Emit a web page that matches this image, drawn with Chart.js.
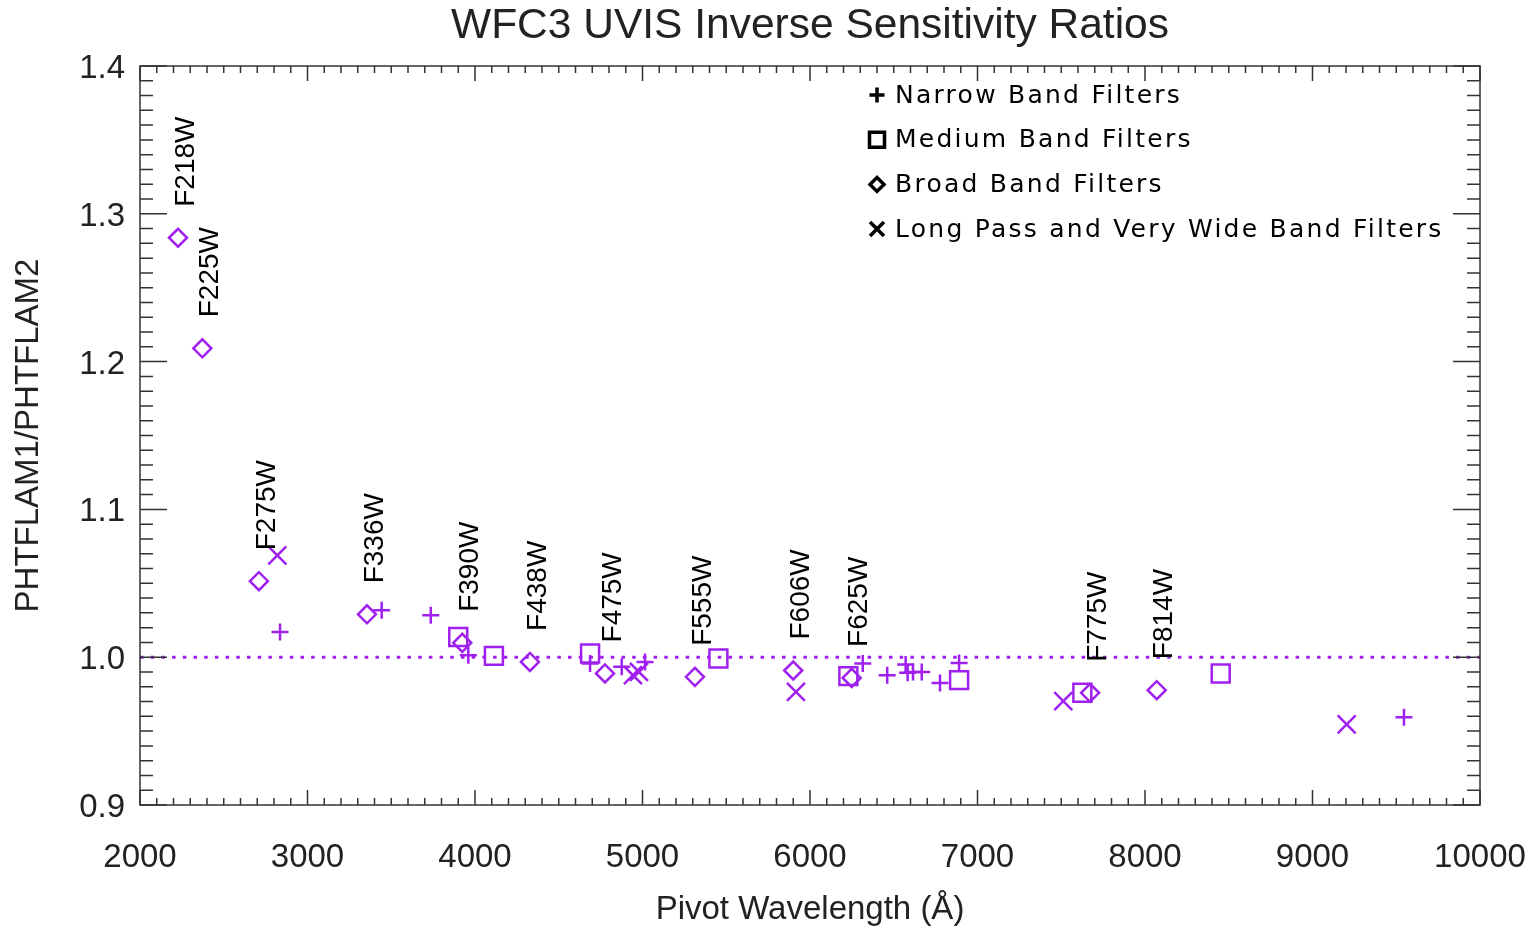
<!DOCTYPE html>
<html>
<head>
<meta charset="utf-8">
<title>WFC3 UVIS Inverse Sensitivity Ratios</title>
<script src="https://cdn.jsdelivr.net/npm/chart.js@4.4.0/dist/chart.umd.min.js"></script>
<style>
    html, body { margin:0; padding:0; background:#fff; }
    canvas { display:block; }
</style>
</head>
<body>

<canvas id="rasioChart" width="1540" height="930"></canvas>

<script>

// pivot wavelength (A) and PHTFLAM1/PHTFLAM2 for each filter group

const narrowWave  = [2836, 3443, 3736, 3960, 4687, 4876, 5015, 6315, 6461, 6571, 6583, 6615, 6667, 6776, 6890, 9546];
const narrowRatio = [1.0171, 1.0318, 1.0284, 1.0014, 0.9957, 0.9935, 0.9968, 0.9957, 0.9878, 0.9950, 0.9894, 0.9900, 0.9900, 0.9826, 0.9961, 0.9593];

const mediumWave  = [3900, 4113, 4687, 5453, 6229, 6890, 7626, 8452];
const mediumRatio = [1.0137, 1.0009, 1.0025, 0.9991, 0.9872, 0.9845, 0.9759, 0.9890];

const broadWave  = [2227, 2372, 2710, 3355, 3924, 4328, 4776, 5313, 5900, 6249, 7672, 8070];
const broadRatio = [1.2838, 1.2090, 1.0514, 1.0290, 1.0097, 0.9968, 0.9890, 0.9867, 0.9910, 0.9860, 0.9759, 0.9777];
const broadNama  = ["F218W", "F225W", "F275W", "F336W", "F390W", "F438W", "F475W", "F555W", "F606W", "F625W", "F775W", "F814W"];

const wideWave  = [2820, 4943, 4979, 5916, 7512, 9204];
const wideRatio = [1.0689, 0.9878, 0.9900, 0.9766, 0.9703, 0.9545];

// reference level drawn dotted across the plot
const garisWave  = [2000, 10000];
const garisRatio = [1.0, 1.0];

const xTickLabels = [2000, 3000, 4000, 5000, 6000, 7000, 8000, 9000, 10000];
const yTickLabels = [0.9, 1.0, 1.1, 1.2, 1.3, 1.4];

const legendTeks = [
    "Narrow Band Filters",
    "Medium Band Filters",
    "Broad Band Filters",
    "Long Pass and Very Wide Band Filters"
];

const ungu = "#A020F0";
const hurufSans = "'Liberation Sans', Arial, Helvetica, sans-serif";

Chart.defaults.font.family = hurufSans;

function gabung(wave, ratio){
    return wave.map((w, i) => ({ x: w, y: ratio[i] }));
}

// frame with inward ticks on all four sides
const bingkaiPlugin = {
    id: "bingkai",
    afterDraw(chart){
        const ctx = chart.ctx;
        const a = chart.chartArea;
        const sx = chart.scales.x;
        const sy = chart.scales.y;

        ctx.save();
        ctx.strokeStyle = "#333";
        ctx.lineWidth = 1.5;
        ctx.strokeRect(a.left, a.top, a.right - a.left, a.bottom - a.top);

        ctx.beginPath();
        for (let k = 20; k <= 100; k++) {
            const px = sx.getPixelForValue(k * 100);
            const len = k % 10 === 0 ? 15 : 7;
            ctx.moveTo(px, a.bottom);
            ctx.lineTo(px, a.bottom - len);
            ctx.moveTo(px, a.top);
            ctx.lineTo(px, a.top + len);
        }
        for (let k = 90; k <= 140; k++) {
            const py = sy.getPixelForValue(k / 100);
            const len = k % 10 === 0 ? 27 : 13;
            ctx.moveTo(a.left, py);
            ctx.lineTo(a.left + len, py);
            ctx.moveTo(a.right, py);
            ctx.lineTo(a.right - len, py);
        }
        ctx.stroke();
        ctx.restore();
    }
};

// filter names written upward above the broad band points
const namaFilterPlugin = {
    id: "namaFilter",
    afterDatasetsDraw(chart){
        const ctx = chart.ctx;
        const meta = chart.getDatasetMeta(2);

        ctx.save();
        ctx.fillStyle = "#000";
        ctx.font = "28px " + hurufSans;
        ctx.textAlign = "left";
        ctx.textBaseline = "middle";

        meta.data.forEach((pt, i) => {
            ctx.save();
            ctx.translate(pt.x + 8, pt.y - 31);
            ctx.rotate(-Math.PI / 2);
            ctx.fillText(broadNama[i], 0, 0);
            ctx.restore();
        });

        ctx.restore();
    }
};

// symbol key in the upper right, black symbols
const keteranganPlugin = {
    id: "keterangan",
    afterDraw(chart){
        const ctx = chart.ctx;
        const a = chart.chartArea;
        const sx = a.left + 737;
        const tx = a.left + 755;

        ctx.save();
        ctx.strokeStyle = "#000";
        ctx.fillStyle = "#000";
        ctx.lineWidth = 3.5;
        ctx.font = "25px 'DejaVu Sans', sans-serif";
        ctx.letterSpacing = "2.25px";
        ctx.textAlign = "left";
        ctx.textBaseline = "middle";

        legendTeks.forEach((teks, i) => {
            const cy = a.top + 29 + i * 44.7;

            ctx.beginPath();
            if (i === 0) {
                ctx.moveTo(sx - 7.5, cy); ctx.lineTo(sx + 7.5, cy);
                ctx.moveTo(sx, cy - 7.5); ctx.lineTo(sx, cy + 7.5);
            } else if (i === 1) {
                ctx.rect(sx - 7.5, cy - 7.5, 15, 15);
            } else if (i === 2) {
                ctx.moveTo(sx - 7, cy); ctx.lineTo(sx, cy - 7);
                ctx.lineTo(sx + 7, cy); ctx.lineTo(sx, cy + 7);
                ctx.closePath();
            } else {
                ctx.moveTo(sx - 7, cy - 7); ctx.lineTo(sx + 7, cy + 7);
                ctx.moveTo(sx + 7, cy - 7); ctx.lineTo(sx - 7, cy + 7);
            }
            ctx.stroke();

            ctx.fillText(teks, tx, cy + 1);
        });

        ctx.restore();
    }
};

function titikSet(label, wave, ratio, gaya, radius){
    return {
        label: label,
        data: gabung(wave, ratio),
        pointStyle: gaya,
        pointRadius: radius,
        pointHoverRadius: radius,
        pointBorderWidth: 2.5,
        pointBorderColor: ungu,
        pointBackgroundColor: "rgba(0,0,0,0)",
        borderColor: ungu,
        backgroundColor: "rgba(0,0,0,0)",
        order: 1
    };
}

new Chart(document.getElementById("rasioChart"), {
    type: "scatter",

    data: {
        datasets: [
            titikSet(legendTeks[0], narrowWave, narrowRatio, "cross", 8.5),
            titikSet(legendTeks[1], mediumWave, mediumRatio, "rect", 12.7),
            titikSet(legendTeks[2], broadWave, broadRatio, "rectRot", 9),
            titikSet(legendTeks[3], wideWave, wideRatio, "crossRot", 12.7),
            {
                label: "ratio 1",
                data: gabung(garisWave, garisRatio),
                showLine: true,
                borderColor: ungu,
                borderWidth: 3,
                borderDash: [3.5, 7.2],
                borderCapStyle: "butt",
                pointRadius: 0,
                fill: false,
                order: 10
            }
        ]
    },

    options: {
        responsive: false,
        animation: false,
        devicePixelRatio: 1,
        layout: { padding: { right: 60 } },

        plugins: {
            legend: { display: false },
            tooltip: { enabled: false },
            title: {
                display: true,
                fullSize: false,
                text: "WFC3 UVIS Inverse Sensitivity Ratios",
                color: "#222",
                font: { size: 42.5, weight: "normal" },
                padding: { top: 1, bottom: 14 }
            }
        },

        scales: {
            x: {
                type: "linear",
                min: 2000,
                max: 10000,
                afterBuildTicks: s => { s.ticks = xTickLabels.map(v => ({ value: v })); },
                afterFit: s => {
                    s.height = 125;
                    s.paddingLeft = 0;
                    s.paddingRight = 0;
                },
                grid: { display: false, drawTicks: false },
                border: { display: false },
                ticks: {
                    padding: 33,
                    color: "#222",
                    font: { size: 33 },
                    autoSkip: false,
                    maxRotation: 0,
                    callback: v => String(v)
                },
                title: {
                    display: true,
                    text: "Pivot Wavelength (Å)",
                    color: "#222",
                    font: { size: 33 },
                    padding: { top: 0, bottom: 0 }
                }
            },
            y: {
                type: "linear",
                min: 0.9,
                max: 1.4,
                afterBuildTicks: s => { s.ticks = yTickLabels.map(v => ({ value: v })); },
                afterFit: s => { s.width = 140; },
                grid: { display: false, drawTicks: false },
                border: { display: false },
                ticks: {
                    padding: 15,
                    labelOffset: 3,
                    color: "#222",
                    font: { size: 33 },
                    autoSkip: false,
                    callback: v => Number(v).toFixed(1)
                },
                title: {
                    display: true,
                    text: "PHTFLAM1/PHTFLAM2",
                    color: "#222",
                    font: { size: 33 },
                    padding: { top: 9, bottom: 0 }
                }
            }
        }
    },

    plugins: [bingkaiPlugin, namaFilterPlugin, keteranganPlugin]
});

</script>
</body>
</html>
